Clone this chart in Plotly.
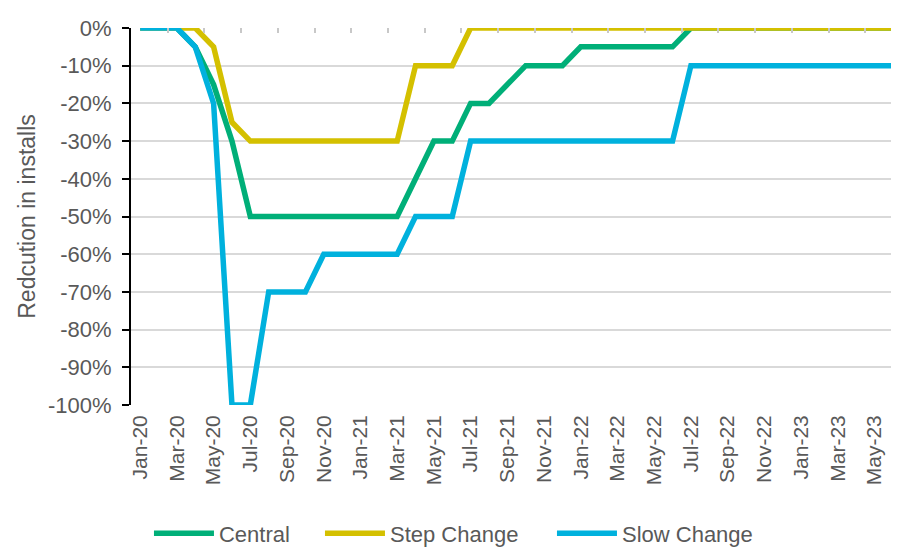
import plotly.graph_objects as go

months = ["Jan-20","Feb-20","Mar-20","Apr-20","May-20","Jun-20","Jul-20","Aug-20","Sep-20","Oct-20","Nov-20","Dec-20",
          "Jan-21","Feb-21","Mar-21","Apr-21","May-21","Jun-21","Jul-21","Aug-21","Sep-21","Oct-21","Nov-21","Dec-21",
          "Jan-22","Feb-22","Mar-22","Apr-22","May-22","Jun-22","Jul-22","Aug-22","Sep-22","Oct-22","Nov-22","Dec-22",
          "Jan-23","Feb-23","Mar-23","Apr-23","May-23","Jun-23"]

central = [0, 0, 0, -5, -15, -30, -50, -50, -50, -50, -50, -50,
           -50, -50, -50, -40, -30, -30, -20, -20, -15, -10, -10, -10,
           -5, -5, -5, -5, -5, -5, 0, 0, 0, 0, 0, 0,
           0, 0, 0, 0, 0, 0]
step_change = [0, 0, 0, 0, -5, -25, -30, -30, -30, -30, -30, -30,
               -30, -30, -30, -10, -10, -10, 0, 0, 0, 0, 0, 0,
               0, 0, 0, 0, 0, 0, 0, 0, 0, 0, 0, 0,
               0, 0, 0, 0, 0, 0]
slow_change = [0, 0, 0, -5, -20, -100, -100, -70, -70, -70, -60, -60,
               -60, -60, -60, -50, -50, -50, -30, -30, -30, -30, -30, -30,
               -30, -30, -30, -30, -30, -30, -10, -10, -10, -10, -10, -10,
               -10, -10, -10, -10, -10, -10]

y_ticks = [0, -10, -20, -30, -40, -50, -60, -70, -80, -90, -100]
y_tick_text = ["0%", "-10%", "-20%", "-30%", "-40%", "-50%", "-60%", "-70%", "-80%", "-90%", "-100%"]

series = [("Central", central, "#00AF78", "legend", 0.0233),
          ("Step Change", step_change, "#D4C000", "legend2", 0.2451),
          ("Slow Change", slow_change, "#00B1DD", "legend3", 0.546)]

FONT = "Arial, Liberation Sans, sans-serif"
GREY = "#595959"

fig = go.Figure()
for name, vals, col, lg, lx in series:
    fig.add_trace(go.Scatter(x=months, y=vals, name=name, mode="lines",
                             line=dict(color=col, width=5.5), legend=lg))

leg_common = dict(orientation="h", yanchor="middle", xanchor="left", y=-0.341,
                  font=dict(family=FONT, size=22, color=GREY), itemwidth=60,
                  bgcolor="rgba(0,0,0,0)", borderwidth=0)
fig.update_layout(
    width=899, height=549,
    margin=dict(l=123, r=5, t=20, b=152, autoexpand=False),
    paper_bgcolor="white", plot_bgcolor="white",
    font=dict(family=FONT, color=GREY),
    legend=dict(x=series[0][4], **leg_common),
    legend2=dict(x=series[1][4], **leg_common),
    legend3=dict(x=series[2][4], **leg_common),
    xaxis=dict(type="category", categoryorder="array", categoryarray=months,
               range=[-0.5, 41.5], tickvals=months[::2], ticktext=months[::2],
               tickangle=-90, tickfont=dict(family=FONT, size=21, color=GREY),
               showgrid=False, showline=False, zeroline=False, ticks="",
               automargin=False, ticklabelstandoff=5),
    xaxis2=dict(overlaying="x", side="top", anchor="y", range=[-0.5, 41.5],
                tickvals=[i + 1.5 for i in range(0, 42, 2)], ticks="inside", ticklen=5,
                tickwidth=1.5, tickcolor="#C8C8C8", showticklabels=False,
                showgrid=False, showline=False, zeroline=False, automargin=False),
    yaxis=dict(range=[-100, 0], tickvals=y_ticks, ticktext=y_tick_text,
               tickfont=dict(family=FONT, size=22, color=GREY),
               showgrid=True, gridcolor="#D9D9D9", gridwidth=1.5,
               showline=True, linecolor="black", linewidth=2,
               ticks="outside", ticklen=7, tickwidth=2, tickcolor="black",
               zeroline=False, automargin=False, ticklabelstandoff=6,
               title=dict(text="Redcution in installs", font=dict(family=FONT, size=23, color=GREY),
                          standoff=6)),
)
fig.add_trace(go.Scatter(x=[None], y=[None], xaxis="x2", showlegend=False, hoverinfo="skip"))
fig.write_html("out.html")
